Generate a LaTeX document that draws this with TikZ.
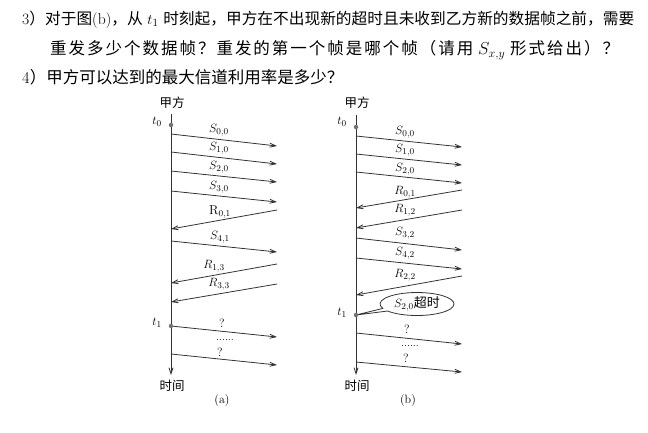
\documentclass[tikz,border=0pt]{standalone}
\usepackage{fontspec}
\newfontfamily\cjk{Noto Sans CJK SC}
\newfontfamily\cjkw[LetterSpace=12]{Noto Sans CJK SC}
\usetikzlibrary{arrows.meta,shapes.callouts,shapes.geometric}
\begin{document}
\begin{tikzpicture}[x=1pt,y=-1pt,
  ln/.style={draw=black!80, line width=0.8pt},
  msg/.style={ln, -{Straight Barb[length=6pt,width=4pt]}},
  lbl/.style={font=\fontsize{13}{15}\selectfont, inner sep=0pt},
  tl/.style={font=\fontsize{13}{15}\selectfont, inner sep=0pt},
  cj/.style={font=\fontsize{12.5}{14}\selectfont\cjk, inner sep=0pt},
  dotc/.style={circle, fill=black!55, inner sep=0pt, minimum size=4.5pt},
  txt/.style={font=\fontsize{16.5}{19}\selectfont, anchor=west, inner sep=0pt}
]
\useasboundingbox (0,0) rectangle (648,432);
\clip (0,0) rectangle (648,432);

% header text
\node[txt, font=\fontsize{15.7}{19}\selectfont] (q3) at (22,20) {3{\cjk）对于图}(b){\cjk，从} $t_1$ {\cjk 时刻起，甲方在不出现新的超时且未收到乙方新的数据帧之前，需要}};
\node[txt] (q3b) at (50,50) {{\cjkw 重发多少个数据帧？重发的第一个帧是哪个帧（请用} $S_{x,y}$ {\cjkw 形式给出）？}};
\node[txt] (q4) at (22,77) {4{\cjk）甲方可以达到的最大信道利用率是多少？}};

% ---------- diagram (a) ----------
\coordinate (a-top) at (171,114);
\coordinate (a-bot) at (171,375);
\draw[msg] (a-top) -- (a-bot);
\node[cj] (a-jia) at (172,103) {甲方};
\node[tl] (a-t0l) at (157,122) {$t_0$};
\node[tl] (a-t1l) at (157,323) {$t_1$};
\node[cj] (a-time) at (172,386) {时间};
\node[lbl, font=\fontsize{12}{14}\selectfont] (a-cap) at (222,400) {(a)};

\coordinate (aL1) at (171,134); \coordinate (aR1) at (277,146);
\coordinate (aL2) at (171,152); \coordinate (aR2) at (277,164);
\coordinate (aL3) at (171,171); \coordinate (aR3) at (277,182);
\coordinate (aL4) at (171,191); \coordinate (aR4) at (277,202);
\coordinate (aR5) at (277,210); \coordinate (aL5) at (171,229);
\coordinate (aL6) at (171,241); \coordinate (aR6) at (277,252);
\coordinate (aR7) at (277,264); \coordinate (aL7) at (171,283);
\coordinate (aR8) at (277,284); \coordinate (aL8) at (171,302);
\coordinate (aL9) at (171,326); \coordinate (aR9) at (277,337);
\coordinate (aL10) at (171,354); \coordinate (aR10) at (277,365);

\draw[msg] (aL1) -- (aR1);
\draw[msg] (aL2) -- (aR2);
\draw[msg] (aL3) -- (aR3);
\draw[msg] (aL4) -- (aR4);
\draw[msg] (aR5) -- (aL5);
\draw[msg] (aL6) -- (aR6);
\draw[msg] (aR7) -- (aL7);
\draw[msg] (aR8) -- (aL8);
\draw[msg] (aL9) -- (aR9);
\draw[msg] (aL10) -- (aR10);

\node[lbl] (a-s00) at (219,130) {$S_{0,0}$};
\node[lbl] (a-s10) at (219,148) {$S_{1,0}$};
\node[lbl] (a-s20) at (219,167) {$S_{2,0}$};
\node[lbl] (a-s30) at (219,187) {$S_{3,0}$};
\node[lbl] (a-r01) at (220,212) {$\mathrm{R}_{0,1}$};
\node[lbl] (a-s41) at (220,237) {$S_{4,1}$};
\node[lbl] (a-r13) at (214,266) {$R_{1,3}$};
\node[lbl] (a-r33) at (219,284) {$R_{3,3}$};
\node[lbl, font=\fontsize{12}{14}\selectfont] (a-q1) at (222,323) {?};
\node[lbl, font=\fontsize{11}{12}\selectfont] (a-dots) at (225,340) {......};
\node[lbl, font=\fontsize{12}{14}\selectfont] (a-q2) at (220,352) {?};

\node[dotc] (a-t0) at (171,125) {};
\node[dotc] (a-t1) at (171,326) {};

% ---------- diagram (b) ----------
\coordinate (b-top) at (356,115);
\coordinate (b-bot) at (356,375);
\draw[msg] (b-top) -- (b-bot);
\node[cj] (b-jia) at (357,103) {甲方};
\node[tl] (b-t0l) at (342,122) {$t_0$};
\node[tl] (b-t1l) at (342,313) {$t_1$};
\node[cj] (b-time) at (357,386) {时间};
\node[lbl, font=\fontsize{12}{14}\selectfont] (b-cap) at (408,400) {(b)};

\coordinate (bL1) at (356,136); \coordinate (bR1) at (462,147);
\coordinate (bL2) at (356,154); \coordinate (bR2) at (462,165);
\coordinate (bL3) at (356,172); \coordinate (bR3) at (462,183);
\coordinate (bR4) at (462,190); \coordinate (bL4) at (356,208);
\coordinate (bR5) at (462,210); \coordinate (bL5) at (356,228);
\coordinate (bL6) at (356,238); \coordinate (bR6) at (462,250);
\coordinate (bL7) at (356,258); \coordinate (bR7) at (462,269);
\coordinate (bR8) at (462,276); \coordinate (bL8) at (356,295);
\coordinate (bL9) at (356,333); \coordinate (bR9) at (462,344);
\coordinate (bL10) at (356,362); \coordinate (bR10) at (462,372);

\draw[msg] (bL1) -- (bR1);
\draw[msg] (bL2) -- (bR2);
\draw[msg] (bL3) -- (bR3);
\draw[msg] (bR4) -- (bL4);
\draw[msg] (bR5) -- (bL5);
\draw[msg] (bL6) -- (bR6);
\draw[msg] (bL7) -- (bR7);
\draw[msg] (bR8) -- (bL8);
\draw[msg] (bL9) -- (bR9);
\draw[msg] (bL10) -- (bR10);

\node[lbl] (b-s00) at (405,132) {$S_{0,0}$};
\node[lbl] (b-s10) at (405,150) {$S_{1,0}$};
\node[lbl] (b-s20) at (405,169) {$S_{2,0}$};
\node[lbl] (b-r01) at (405,192) {$R_{0,1}$};
\node[lbl] (b-r12) at (405,210) {$R_{1,2}$};
\node[lbl] (b-s32) at (405,233) {$S_{3,2}$};
\node[lbl] (b-s42) at (405,253) {$S_{4,2}$};
\node[lbl] (b-r22) at (405,275) {$R_{2,2}$};
\node[lbl, font=\fontsize{12}{14}\selectfont] (b-q1) at (407,329) {?};
\node[lbl, font=\fontsize{11}{12}\selectfont] (b-dots) at (410,346) {......};
\node[lbl, font=\fontsize{12}{14}\selectfont] (b-q2) at (406,358) {?};

\node[dotc] (b-t0) at (356,127) {};
\coordinate (b-t1c) at (356,315);
\node[ellipse callout, draw=black!80, line width=0.8pt, fill=white,
      minimum width=74pt, minimum height=23pt, inner sep=0pt,
      callout absolute pointer={(b-t1c)}, font=\fontsize{13}{15}\selectfont]
      (b-call) at (417,304) {$S_{2,0}${\cjk 超时}};
\node[dotc] (b-t1) at (b-t1c) {};
\end{tikzpicture}
\end{document}
